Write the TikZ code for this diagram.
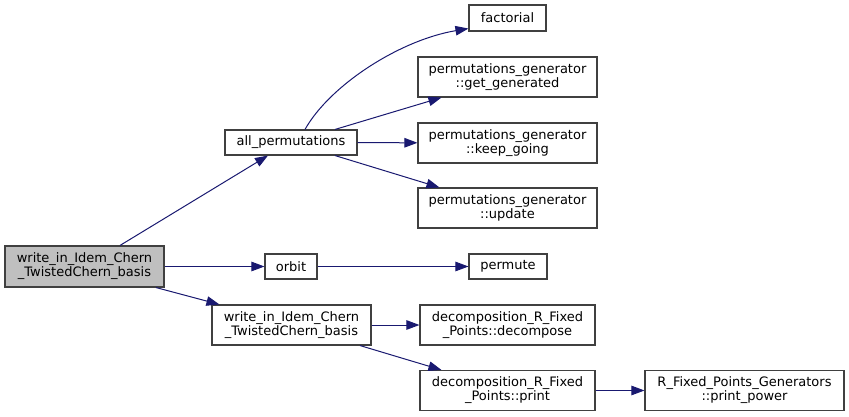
\documentclass[tikz,border=0pt]{standalone}
\usepackage{fontspec}
\setmainfont{DejaVu Sans}
\usetikzlibrary{arrows.meta}
\definecolor{edgeblue}{RGB}{25,25,112}
\definecolor{boxgray}{RGB}{191,191,191}
\definecolor{boxline}{RGB}{64,64,64}

\begin{document}
\begin{tikzpicture}[x=1pt, y=-1pt,
    fn/.style={draw=boxline, line width=1.1pt, fill=white, align=center, inner sep=0pt,
      font=\fontsize{13}{14}\selectfont},
    call/.style={edgeblue, line width=1pt, -{Triangle[length=13pt,width=9.5pt]}}]
  \useasboundingbox (0,0) rectangle (849,417);
  % Caller
  \node[fn, fill=boxgray, minimum width=159pt, minimum height=41pt] (root) at (84.5,266.5) {write\_in\_Idem\_Chern\\\_TwistedChern\_basis};
  % First level
  \node[fn, minimum width=132pt, minimum height=25pt] (allperm) at (291,142.5) {all\_permutations};
  \node[fn, minimum width=52pt, minimum height=25pt] (orbit) at (291,266.5) {orbit};
  \node[fn, minimum width=159pt, minimum height=40pt] (write) at (291.5,325) {write\_in\_Idem\_Chern\\\_TwistedChern\_basis};
  % Second level
  \node[fn, minimum width=77pt, minimum height=26pt] (fact) at (507.5,18) {factorial};
  \node[fn, minimum width=179pt, minimum height=40pt] (getgen) at (507.5,77) {permutations\_generator\\::get\_generated};
  \node[fn, minimum width=179pt, minimum height=40pt] (keep) at (507.5,143) {permutations\_generator\\::keep\_going};
  \node[fn, minimum width=179pt, minimum height=40pt] (update) at (507.5,208) {permutations\_generator\\::update};
  \node[fn, minimum width=78pt, minimum height=25pt] (permute) at (508,266.5) {permute};
  \node[fn, minimum width=175pt, minimum height=40pt] (decomp) at (507.5,325) {decomposition\_R\_Fixed\\\_Points::decompose};
  \node[fn, minimum width=175pt, minimum height=40pt] (print) at (507.5,390.5) {decomposition\_R\_Fixed\\\_Points::print};
  % Third level
  \node[fn, minimum width=199pt, minimum height=40pt] (power) at (744.5,390.5) {R\_Fixed\_Points\_Generators\\::print\_power};
  % Calls
  \draw[call] ([xshift=35.5pt]root.north) -- ([xshift=-23pt]allperm.south);
  \draw[call] (root) -- (orbit);
  \draw[call] ([xshift=71.5pt]root.south) -- ([xshift=8pt]write.north west);
  \draw[call] ([xshift=14pt]allperm.north) .. controls (330,85) and (400,40) .. ([yshift=3pt]fact.south west);
  \draw[call] ([xshift=44pt]allperm.north) -- ([xshift=24pt]getgen.south west);
  \draw[call] (allperm) -- (keep);
  \draw[call] ([xshift=44pt]allperm.south) -- ([xshift=22pt]update.north west);
  \draw[call] (orbit) -- (permute);
  \draw[call] (write) -- (decomp);
  \draw[call] ([xshift=68.5pt]write.south) -- ([xshift=22pt]print.north west);
  \draw[call] (print) -- (power);
\end{tikzpicture}
\end{document}
